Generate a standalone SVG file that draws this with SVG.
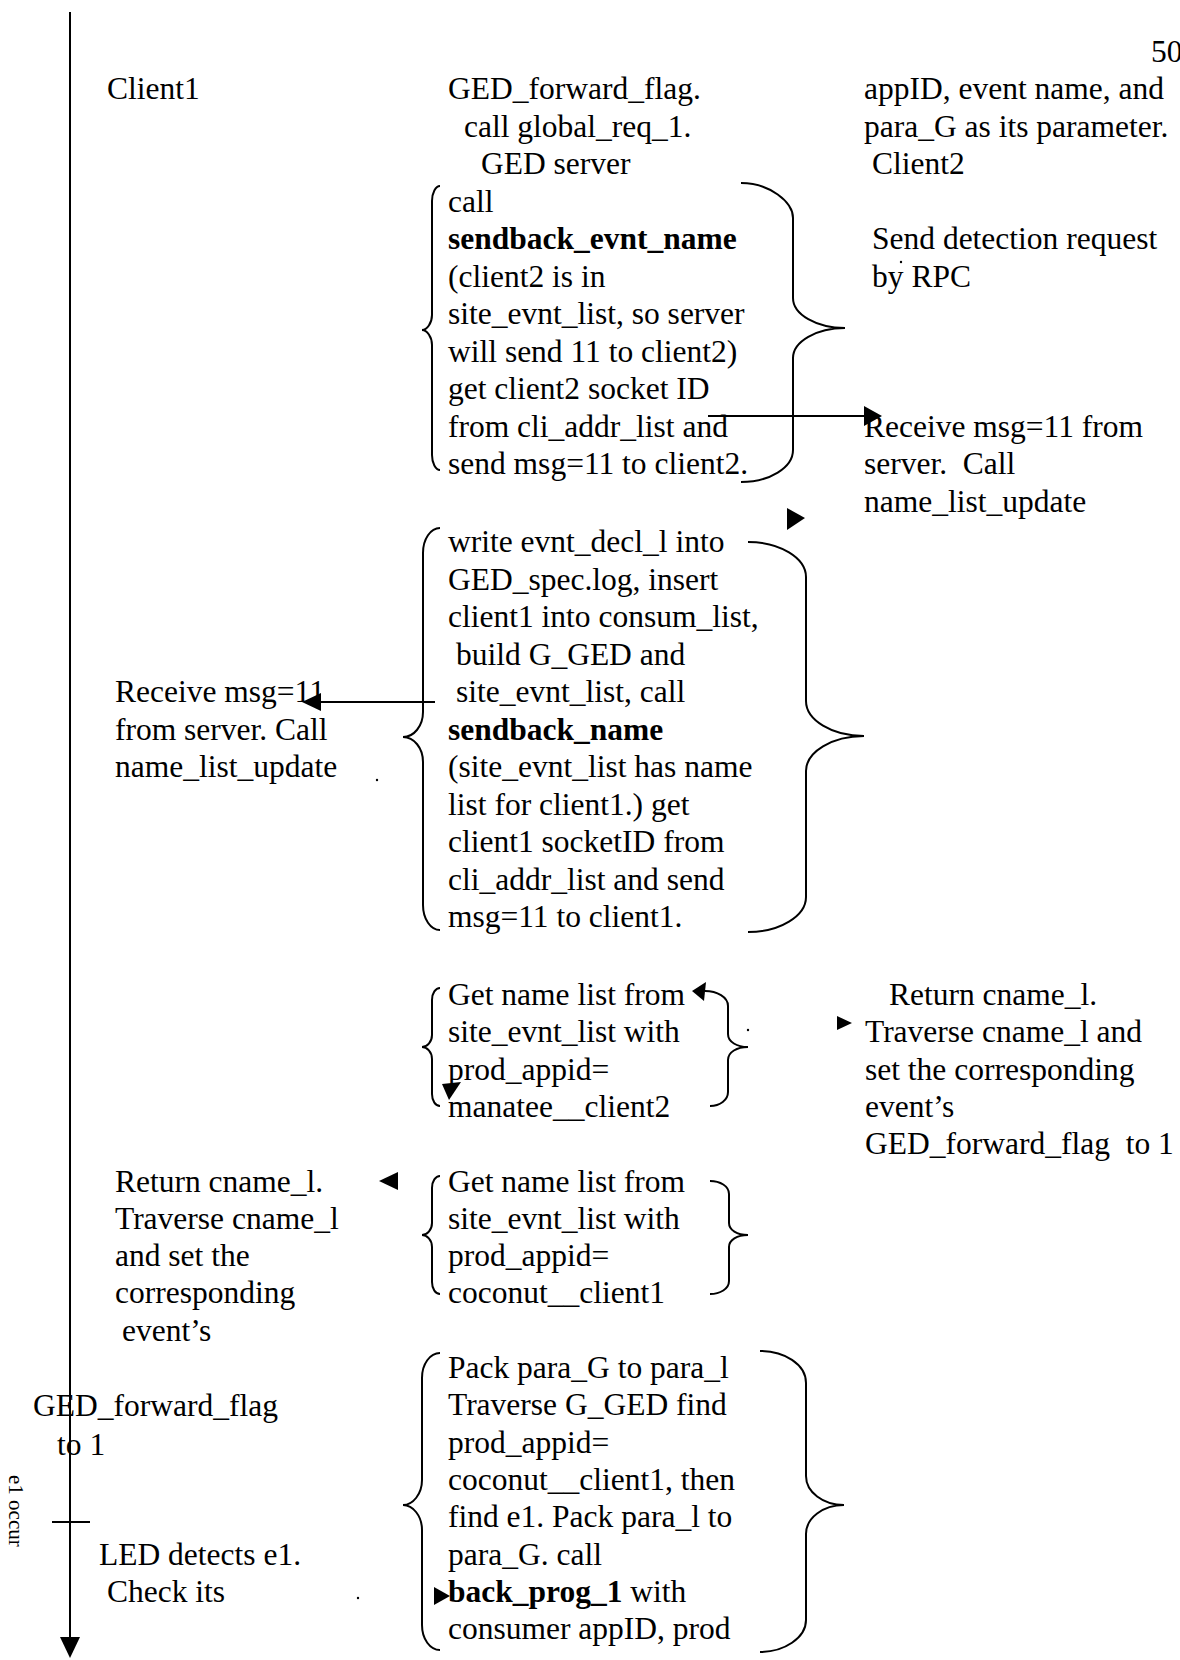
<svg xmlns="http://www.w3.org/2000/svg" width="1180" height="1660" viewBox="0 0 1180 1660">
  <style>
    .t { font-family: "Liberation Serif", "Times New Roman", serif; font-size: 31.5px; fill: #000; }
    .b { font-weight: bold; }
    .sm { font-size: 21px; }
    .br { fill: none; stroke: #000; stroke-width: 2; }
    .ln { fill: none; stroke: #000; stroke-width: 2; }
    .hd { fill: #000; stroke: none; }
  </style>
  <rect width="1180" height="1660" fill="#fff"/>

  <!-- time axis on the left -->
  <g id="timeline">
    <line class="ln" x1="70" y1="12" x2="70" y2="1640" stroke-width="2.6"/>
    <polygon class="hd" points="60,1637 80,1637 70,1658"/>
    <line class="ln" x1="52" y1="1522" x2="90" y2="1522"/>
    <text class="t sm" transform="translate(9,1475) rotate(90)">e1 occur</text>
  </g>

  <g id="page-number">
    <text class="t" x="1151" y="62">50</text>
  </g>

  <!-- column headers -->
  <g id="client1-header">
    <text class="t" x="107" y="99">Client1</text>
  </g>
  <g id="server-header">
    <text class="t" x="448" y="99">GED_forward_flag.</text>
    <text class="t" x="464" y="136.5">call global_req_1.</text>
    <text class="t" x="481" y="174">GED server</text>
  </g>
  <g id="client2-header">
    <text class="t" x="864" y="99">appID, event name, and</text>
    <text class="t" x="864" y="136.5">para_G as its parameter.</text>
    <text class="t" x="872" y="174">Client2</text>
  </g>

  <!-- server step 1 -->
  <g id="server-sendback-evnt-name">
    <path class="br" d="M440,186 C435.6,186 432,193 432,201 L432,315 C432,323 427,330 422,330 C427,330 432,337 432,345 L432,455 C432,463 435.6,470 440,470"/>
    <path class="br" d="M741,183 C769.6,183 793,202 793,218 L793,298 C793,314.5 816.4,328 845,328 C816.4,328 793,341.5 793,358 L793,450 C793,467.6 769.6,482 741,482"/>
    <text class="t" x="448" y="211.5">call</text>
    <text class="t b" x="448" y="249">sendback_evnt_name</text>
    <text class="t" x="448" y="286.5">(client2 is in</text>
    <text class="t" x="448" y="324">site_evnt_list, so server</text>
    <text class="t" x="448" y="361.5">will send 11 to client2)</text>
    <text class="t" x="448" y="399">get client2 socket ID</text>
    <text class="t" x="448" y="436.5">from cli_addr_list and</text>
    <text class="t" x="448" y="474">send msg=11 to client2.</text>
  </g>

  <g id="client2-send-request">
    <text class="t" x="872" y="249">Send detection request</text>
    <text class="t" x="872" y="286.5">by RPC</text>
    <circle class="hd" cx="901" cy="262" r="1.2"/>
  </g>

  <g id="client2-receive">
    <text class="t" x="864" y="436.5">Receive msg=11 from</text>
    <text class="t" x="864" y="474">server.&#160; Call</text>
    <text class="t" x="864" y="511.5">name_list_update</text>
  </g>

  <!-- server step 2 -->
  <g id="server-sendback-name">
    <path class="br" d="M440,528 C430.6,528 423,539 423,553 L423,712 C423,726 414,737 403,737 C414,737 423,748 423,762 L423,905 C423,919 430.6,930 440,930"/>
    <path class="br" d="M748,542 C780,542 806,558 806,577 L806,701 C806,720 832,736 864,736 C832,736 806,752 806,771 L806,897 C806,916 780,932 748,932"/>
    <text class="t" x="448" y="552">write evnt_decl_l into</text>
    <text class="t" x="448" y="589.5">GED_spec.log, insert</text>
    <text class="t" x="448" y="627">client1 into consum_list,</text>
    <text class="t" x="456" y="664.5">build G_GED and</text>
    <text class="t" x="456" y="702">site_evnt_list, call</text>
    <text class="t b" x="448" y="739.5">sendback_name</text>
    <text class="t" x="448" y="777">(site_evnt_list has name</text>
    <text class="t" x="448" y="814.5">list for client1.) get</text>
    <text class="t" x="448" y="852">client1 socketID from</text>
    <text class="t" x="448" y="889.5">cli_addr_list and send</text>
    <text class="t" x="448" y="927">msg=11 to client1.</text>
  </g>

  <g id="client1-receive">
    <text class="t" x="115" y="702">Receive msg=11</text>
    <text class="t" x="115" y="739.5">from server. Call</text>
    <text class="t" x="115" y="777">name_list_update</text>
    <circle class="hd" cx="377" cy="780" r="1.2"/>
  </g>

  <!-- server step 3 -->
  <g id="server-name-list-client2">
    <path class="br" d="M440,988 C435.6,988 432,993 432,1000 L432,1035 C432,1042 427,1047 422,1047 C427,1047 432,1052 432,1059 L432,1094 C432,1101 435.6,1106 440,1106"/>
    <path class="br" d="M705,991 C717,991 728,997 728,1006 L728,1034 C728,1042 737,1047 748,1047 C737,1047 728,1052 728,1060 L728,1092 C728,1100 720,1106 710,1106"/>
    <text class="t" x="448" y="1005">Get name list from</text>
    <text class="t" x="448" y="1042.3">site_evnt_list with</text>
    <text class="t" x="448" y="1079.6">prod_appid=</text>
    <text class="t" x="448" y="1116.9">manatee__client2</text>
    <circle class="hd" cx="748" cy="1030" r="1.2"/>
  </g>

  <g id="client2-return">
    <text class="t" x="889" y="1005">Return cname_l.</text>
    <text class="t" x="865" y="1042.3">Traverse cname_l and</text>
    <text class="t" x="865" y="1079.6">set the corresponding</text>
    <text class="t" x="865" y="1116.9">event’s</text>
    <text class="t" x="865" y="1154.2">GED_forward_flag&#160; to 1</text>
  </g>

  <!-- server step 4 -->
  <g id="server-name-list-client1">
    <path class="br" d="M440,1176 C435.6,1176 432,1181 432,1188 L432,1223 C432,1230 427,1235 422,1235 C427,1235 432,1240 432,1247 L432,1282 C432,1289 435.6,1294 440,1294"/>
    <path class="br" d="M710,1181 C720,1181 729,1186 729,1194 L729,1223 C729,1230 737,1235 748,1235 C737,1235 729,1240 729,1247 L729,1281 C729,1289 720,1294 710,1294"/>
    <text class="t" x="448" y="1191.5">Get name list from</text>
    <text class="t" x="448" y="1228.8">site_evnt_list with</text>
    <text class="t" x="448" y="1266.1">prod_appid=</text>
    <text class="t" x="448" y="1303.4">coconut__client1</text>
  </g>

  <g id="client1-return">
    <text class="t" x="115" y="1191.5">Return cname_l.</text>
    <text class="t" x="115" y="1228.8">Traverse cname_l</text>
    <text class="t" x="115" y="1266.1">and set the</text>
    <text class="t" x="115" y="1303.4">corresponding</text>
    <text class="t" x="122" y="1340.7">event’s</text>
    <text class="t" x="33" y="1416">GED_forward_flag</text>
    <text class="t" x="57" y="1455">to 1</text>
  </g>

  <g id="client1-detect">
    <text class="t" x="99" y="1564.5">LED detects e1.</text>
    <text class="t" x="107" y="1602">Check its</text>
    <circle class="hd" cx="358" cy="1598" r="1.2"/>
  </g>

  <!-- server step 5 -->
  <g id="server-back-prog">
    <path class="br" d="M440,1353 C430,1353 422,1364 422,1378 L422,1480 C422,1494 413,1505 403,1505 C413,1505 422,1516 422,1530 L422,1625 C422,1639 430,1650 440,1650"/>
    <path class="br" d="M760,1351 C784,1351 806,1364 806,1383 L806,1476 C806,1492 823,1505 844,1505 C823,1505 806,1518 806,1534 L806,1620 C806,1638 784,1652 760,1652"/>
    <text class="t" x="448" y="1378">Pack para_G to para_l</text>
    <text class="t" x="448" y="1415.3">Traverse G_GED find</text>
    <text class="t" x="448" y="1452.6">prod_appid=</text>
    <text class="t" x="448" y="1489.9">coconut__client1, then</text>
    <text class="t" x="448" y="1527.2">find e1. Pack para_l to</text>
    <text class="t" x="448" y="1564.5">para_G. call</text>
    <text class="t" x="448" y="1601.8"><tspan class="b">back_prog_1</tspan> with</text>
    <text class="t" x="448" y="1639.1">consumer appID, prod</text>
  </g>

  <!-- messages between the columns -->
  <g id="connectors">
    <line class="ln" x1="708" y1="416" x2="866" y2="416"/>
    <polygon class="hd" points="864,406 882,416 864,426"/>
    <polygon class="hd" points="787,508 805,518 787,530"/>
    <line class="ln" x1="435" y1="702" x2="318" y2="702"/>
    <polygon class="hd" points="302,702 321,693 321,711"/>
    <polygon class="hd" points="692,991 706,982 704,1001"/>
    <polygon class="hd" points="442,1084 461,1082 449,1100"/>
    <polygon class="hd" points="852,1023 837,1016 837,1030"/>
    <polygon class="hd" points="379,1181 398,1172 398,1190"/>
    <polygon class="hd" points="450,1596 434,1587 434,1605"/>
  </g>
</svg>
